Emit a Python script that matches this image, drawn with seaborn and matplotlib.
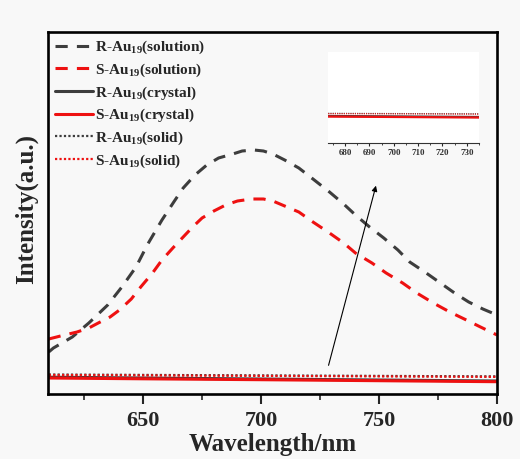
# plot.py
# - Photoluminescence spectra of R/S-Au19 in solution, crystal and solid states
# - Inset zooms on the weak crystal / solid emission

import matplotlib
matplotlib.use("Agg")
import matplotlib.pyplot as plt
import seaborn as sns

# solution spectra (arbitrary intensity units)
wl_sol_r = [610, 612, 620, 627, 635, 641, 647, 652, 658, 663, 667, 672, 677,
            682, 688, 692, 697, 701, 705, 710, 716, 722, 729, 735, 740, 746,
            752, 758, 763, 770, 776, 782, 788, 794, 800]
int_sol_r = [42, 46, 57, 71, 89, 107, 127, 150, 174, 192, 206, 219, 229,
             236, 240, 243, 244, 243, 240, 234, 226, 215, 202, 190, 179, 167,
             156, 144, 132, 121, 111, 101, 92, 85, 79]
wl_sol_s = [610, 615, 622, 627, 631, 636, 640, 645, 649, 654, 658, 663, 667,
            671, 675, 680, 685, 690, 696, 701, 705, 710, 716, 722, 729, 735,
            740, 747, 753, 760, 766, 773, 780, 787, 793, 800]
int_sol_s = [55, 58, 62, 66, 71, 77, 84, 95, 107, 121, 134, 147, 157,
             167, 176, 183, 189, 193, 195, 195, 193, 188, 182, 172, 161, 151,
             141, 131, 121, 111, 101, 91, 82, 74, 67, 59]

# crystal and solid spectra (nearly flat)
wl_flat = [610, 650, 700, 750, 800]
int_cry_r = [16.8, 16.0, 15.0, 14.0, 13.0]
int_cry_s = [16.0, 15.2, 14.3, 13.3, 12.3]
int_sld_r = [19.5, 19.1, 18.6, 18.1, 17.6]
int_sld_s = [19.0, 18.6, 18.1, 17.6, 17.1]

labels = [
    "R-Au$_{19}$(solution)",
    "S-Au$_{19}$(solution)",
    "R-Au$_{19}$(crystal)",
    "S-Au$_{19}$(crystal)",
    "R-Au$_{19}$(solid)",
    "S-Au$_{19}$(solid)",
]

major_ticks = [650, 700, 750, 800]
minor_ticks = [625, 675, 725, 775]
inset_ticks = [680, 690, 700, 710, 720, 730]
inset_minor = [675, 685, 695, 705, 715, 725, 735]

GREY = "#3d3d3d"
RED = "#ee1111"
BG = "#f8f8f8"

sns.set_style("ticks")
plt.rcParams["font.family"] = ["Liberation Serif", "DejaVu Serif"]
plt.rcParams["font.weight"] = "bold"
plt.rcParams["mathtext.default"] = "regular"

fig = plt.figure(figsize=(5.2, 4.59), dpi=100, facecolor=BG)
ax = fig.add_axes([0.0923, 0.1416, 0.8635, 0.7887], facecolor=BG)

dash = (0, (4, 3))
sns.lineplot(x=wl_sol_r, y=int_sol_r, ax=ax, color=GREY, lw=2.2,
             linestyle=dash, label=labels[0])
sns.lineplot(x=wl_sol_s, y=int_sol_s, ax=ax, color=RED, lw=2.2,
             linestyle=dash, label=labels[1])
sns.lineplot(x=wl_flat, y=int_cry_r, ax=ax, color=GREY, lw=2.2, label=labels[2])
sns.lineplot(x=wl_flat, y=int_cry_s, ax=ax, color=RED, lw=2.2, label=labels[3])
sns.lineplot(x=wl_flat, y=int_sld_r, ax=ax, color=GREY, lw=1.6,
             linestyle=(0, (1, 1)), label=labels[4])
sns.lineplot(x=wl_flat, y=int_sld_s, ax=ax, color=RED, lw=1.6,
             linestyle=(0, (1, 1)), label=labels[5])

ax.set_xlim(609.7, 800)
ax.set_ylim(0, 362)
ax.set_xticks(major_ticks)
ax.set_xticks(minor_ticks, minor=True)
ax.set_yticks([])
ax.tick_params(axis="x", which="major", direction="out", length=7, width=1.5,
               labelsize=16, pad=5)
ax.tick_params(axis="x", which="minor", direction="out", length=4, width=1.2)
for lab in ax.get_xticklabels():
    lab.set_fontweight("bold")
for sp in ax.spines.values():
    sp.set_linewidth(1.9)
    sp.set_color("black")

ax.set_xlabel("Wavelength/nm", fontsize=18, fontweight="bold", labelpad=2)
ax.set_ylabel("Intensity(a.u.)", fontsize=18, fontweight="bold")
ax.yaxis.set_label_coords(-0.022, 0.51)

ax.legend(loc="upper left", bbox_to_anchor=(0.0, 1.0), frameon=False,
          handlelength=2.5, handletextpad=0.15, labelspacing=0.35,
          borderaxespad=0.0, borderpad=0.45,
          prop={"weight": "bold", "size": 11})

# arrow pointing to the inset
ax.annotate("", xy=(749, 211), xytext=(728.3, 26),
            arrowprops=dict(arrowstyle="-|>", color="black", lw=0.8,
                            mutation_scale=8))

# inset
axin = fig.add_axes([0.631, 0.6885, 0.29, 0.1982], facecolor="white")
sns.lineplot(x=wl_flat, y=int_cry_r, ax=axin, color=GREY, lw=1.6)
sns.lineplot(x=wl_flat, y=int_cry_s, ax=axin, color=RED, lw=1.6)
sns.lineplot(x=wl_flat, y=int_sld_r, ax=axin, color=GREY, lw=0.8,
             linestyle=(0, (1, 1)))
sns.lineplot(x=wl_flat, y=int_sld_s, ax=axin, color=RED, lw=0.8,
             linestyle=(0, (1, 1)))
axin.set_xlim(673, 735)
axin.set_ylim(-18, 95)
axin.set_xticks(inset_ticks)
axin.set_xticks(inset_minor, minor=True)
axin.set_yticks([])
axin.tick_params(axis="x", which="major", direction="out", length=2.5,
                 width=0.8, labelsize=6.5, pad=2, labelcolor="#333333")
axin.tick_params(axis="x", which="minor", direction="out", length=1.5,
                 width=0.6)
for lab in axin.get_xticklabels():
    lab.set_fontweight("bold")
for side in ["top", "left", "right"]:
    axin.spines[side].set_visible(False)
axin.spines["bottom"].set_linewidth(0.8)
axin.spines["bottom"].set_color("#333333")

fig.savefig("out.png", dpi=100, facecolor=BG)
